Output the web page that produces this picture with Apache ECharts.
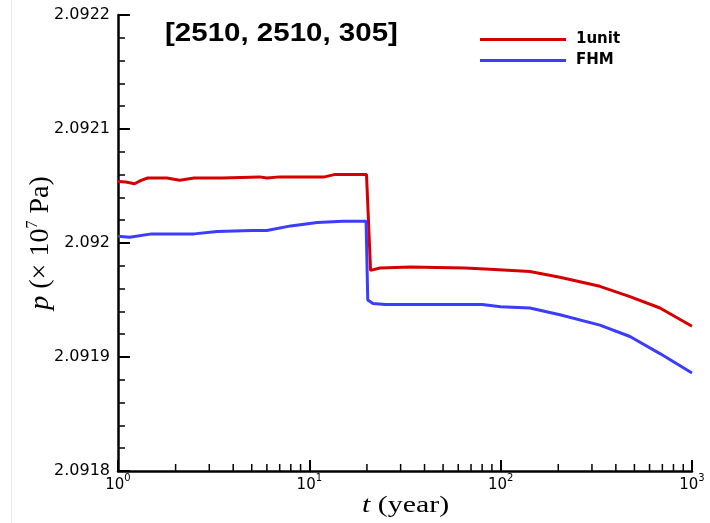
<!DOCTYPE html>
<html>
<head>
<meta charset="utf-8">
<script src="https://cdn.jsdelivr.net/npm/echarts@6/dist/echarts.min.js"></script>
<style>
  html, body { margin: 0; padding: 0; background: #fff; }
  #chart { width: 710px; height: 523px; }
</style>
</head>
<body>
<div id="chart"></div>
<script>
// Pressure history at cell [2510, 2510, 305]: single-unit model vs FHM
const seriesNames = ['1unit', 'FHM'];

const tUnit = [1, 1.1, 1.22, 1.32, 1.43, 1.8, 2.1, 2.5, 3.5, 5.5, 6, 7, 12, 13.5, 19.9,
               20.9, 23.4, 33.6, 65.1, 88, 142, 204, 330, 474, 680, 1000];
const pUnit = [2.092054, 2.0920535, 2.092052, 2.092055, 2.092057, 2.092057, 2.092055, 2.092057,
               2.092057, 2.092058, 2.092057, 2.092058, 2.092058, 2.092060, 2.092060,
               2.091976, 2.091978, 2.091979, 2.091978, 2.091977, 2.091975, 2.091970,
               2.091962, 2.091953, 2.091943, 2.091927];

const tFhm = [1, 1.15, 1.5, 2.5, 3.3, 5, 6, 8, 11, 15, 19.8,
              20.2, 21.5, 25, 40, 80, 100, 142, 204, 330, 474, 680, 1000];
const pFhm = [2.092006, 2.092005, 2.092008, 2.092008, 2.092010, 2.092011, 2.092011, 2.092015,
              2.092018, 2.092019, 2.092019,
              2.091950, 2.091947, 2.091946, 2.091946, 2.091946, 2.091944, 2.091943,
              2.091937, 2.091928, 2.091918, 2.091903, 2.091886];

// axis ticks
const yTicks = [2.0918, 2.0919, 2.092, 2.0921, 2.0922];
const xMinorTicks = [2, 3, 4, 5, 6, 7, 8, 9, 20, 30, 40, 50, 60, 70, 80, 90,
                     200, 300, 400, 500, 600, 700, 800, 900];

const titleText = '[2510, 2510, 305]';

const zip = (xs, ys) => xs.map((x, i) => [x, ys[i]]);

const chart = echarts.init(document.getElementById('chart'), null, { renderer: 'canvas' });

const axisColor = '#000';
const yMin = yTicks[0];
const yMax = yTicks[yTicks.length - 1];

chart.setOption({
  backgroundColor: '#fff',
  animation: false,
  grid: { left: 118, right: 18, top: 15, bottom: 52 },
  legend: {
    orient: 'vertical',
    left: 475,
    top: 27,
    icon: 'rect',
    itemWidth: 86,
    itemHeight: 3,
    itemGap: 6,
    textStyle: {
      fontFamily: 'DejaVu Sans',
      fontWeight: 'bold',
      fontSize: 15,
      lineHeight: 14,
      color: '#000',
      padding: [0, 0, 0, 5]
    },
    data: seriesNames
  },
  graphic: [
    {
      type: 'rect',
      shape: { x: 11, y: 0, width: 1, height: 523 },
      style: { fill: '#e4ecfb' },
      silent: true
    },
    {
      type: 'text',
      x: 165,
      y: 34,
      scaleX: 1.18,
      style: {
        text: titleText,
        fontFamily: 'Liberation Sans',
        fontWeight: 'bold',
        fontSize: 25,
        fill: '#000',
        align: 'left',
        verticalAlign: 'middle'
      }
    },
    {
      type: 'text',
      x: 362,
      y: 506,
      scaleX: 1.3,
      style: {
        text: '{i|t} (year)',
        fontFamily: 'Liberation Serif',
        fontSize: 23,
        fill: '#000',
        align: 'left',
        verticalAlign: 'middle',
        rich: {
          i: { fontFamily: 'Liberation Serif', fontStyle: 'italic', fontSize: 23, fill: '#000' }
        }
      }
    }
  ],
  xAxis: [
    {
      // logarithmic time axis with decade ticks and labels
      type: 'log',
      logBase: 10,
      min: 1,
      max: 1000,
      position: 'bottom',
      axisLine: { show: true, onZero: false, lineStyle: { color: axisColor, width: 2.5 } },
      axisTick: { show: true, inside: true, length: 11, lineStyle: { color: axisColor, width: 2 } },
      axisLabel: {
        show: true,
        margin: 2,
        formatter: v => '{b|10}{s|' + Math.round(Math.log10(v)) + '}',
        rich: {
          b: { fontFamily: 'DejaVu Sans', fontSize: 15, color: '#000', lineHeight: 20, verticalAlign: 'bottom' },
          s: { fontFamily: 'DejaVu Sans', fontSize: 10, color: '#000', lineHeight: 12, verticalAlign: 'top' }
        }
      },
      splitLine: { show: false }
    },
    {
      // linear twin of the time axis, measured in decades (log10 t)
      type: 'value',
      min: 0,
      max: 3,
      position: 'bottom',
      axisLine: { show: false },
      axisTick: { show: false },
      axisLabel: { show: false },
      splitLine: { show: false }
    }
  ],
  yAxis: {
    type: 'value',
    min: yMin,
    max: yMax,
    interval: 0.0001,
    name: '{i|p}{n| (× 10}{s|7}{n| Pa)}',
    nameLocation: 'middle',
    nameGap: 63,
    nameMoveOverlap: false,
    nameTextStyle: {
      color: '#000',
      fontFamily: 'Liberation Serif',
      fontSize: 28,
      rich: {
        i: { fontFamily: 'Liberation Serif', fontStyle: 'italic', fontSize: 28, color: '#000', lineHeight: 30, verticalAlign: 'bottom' },
        n: { fontFamily: 'Liberation Serif', fontSize: 28, color: '#000', lineHeight: 30, verticalAlign: 'bottom' },
        s: { fontFamily: 'Liberation Serif', fontSize: 16, color: '#000', lineHeight: 16, verticalAlign: 'top' }
      }
    },
    axisLine: { show: true, lineStyle: { color: axisColor, width: 2.5 } },
    axisTick: { show: true, inside: true, length: 12, lineStyle: { color: axisColor, width: 2 } },
    minorTick: { show: true, splitNumber: 5, length: 7, lineStyle: { color: axisColor, width: 1.5 } },
    axisLabel: {
      margin: 8,
      color: '#000',
      fontFamily: 'DejaVu Sans',
      fontSize: 16,
      formatter: v => String(+v.toFixed(4))
    },
    splitLine: { show: false },
    minorSplitLine: { show: false }
  },
  series: [
    {
      name: seriesNames[0],
      type: 'line',
      xAxisIndex: 0,
      symbol: 'none',
      lineStyle: { color: '#d40000', width: 3 },
      itemStyle: { color: '#d40000' },
      data: zip(tUnit, pUnit),
      z: 3
    },
    {
      name: seriesNames[1],
      type: 'line',
      xAxisIndex: 0,
      symbol: 'none',
      lineStyle: { color: '#3c3cff', width: 3 },
      itemStyle: { color: '#3c3cff' },
      data: zip(tFhm, pFhm),
      z: 3
    },
    {
      // sub-decade tick marks (2..9 × 10^n), placed on the decade axis at log10(t)
      type: 'custom',
      xAxisIndex: 1,
      yAxisIndex: 0,
      silent: true,
      clip: false,
      z: 5,
      data: xMinorTicks.map(t => [Math.log10(t), yMin]),
      renderItem: (params, api) => {
        const p = api.coord([api.value(0), api.value(1)]);
        return {
          type: 'rect',
          shape: { x: p[0] - 0.75, y: p[1] - 7, width: 1.5, height: 7 },
          style: { fill: axisColor }
        };
      }
    }
  ]
});
</script>
</body>
</html>
